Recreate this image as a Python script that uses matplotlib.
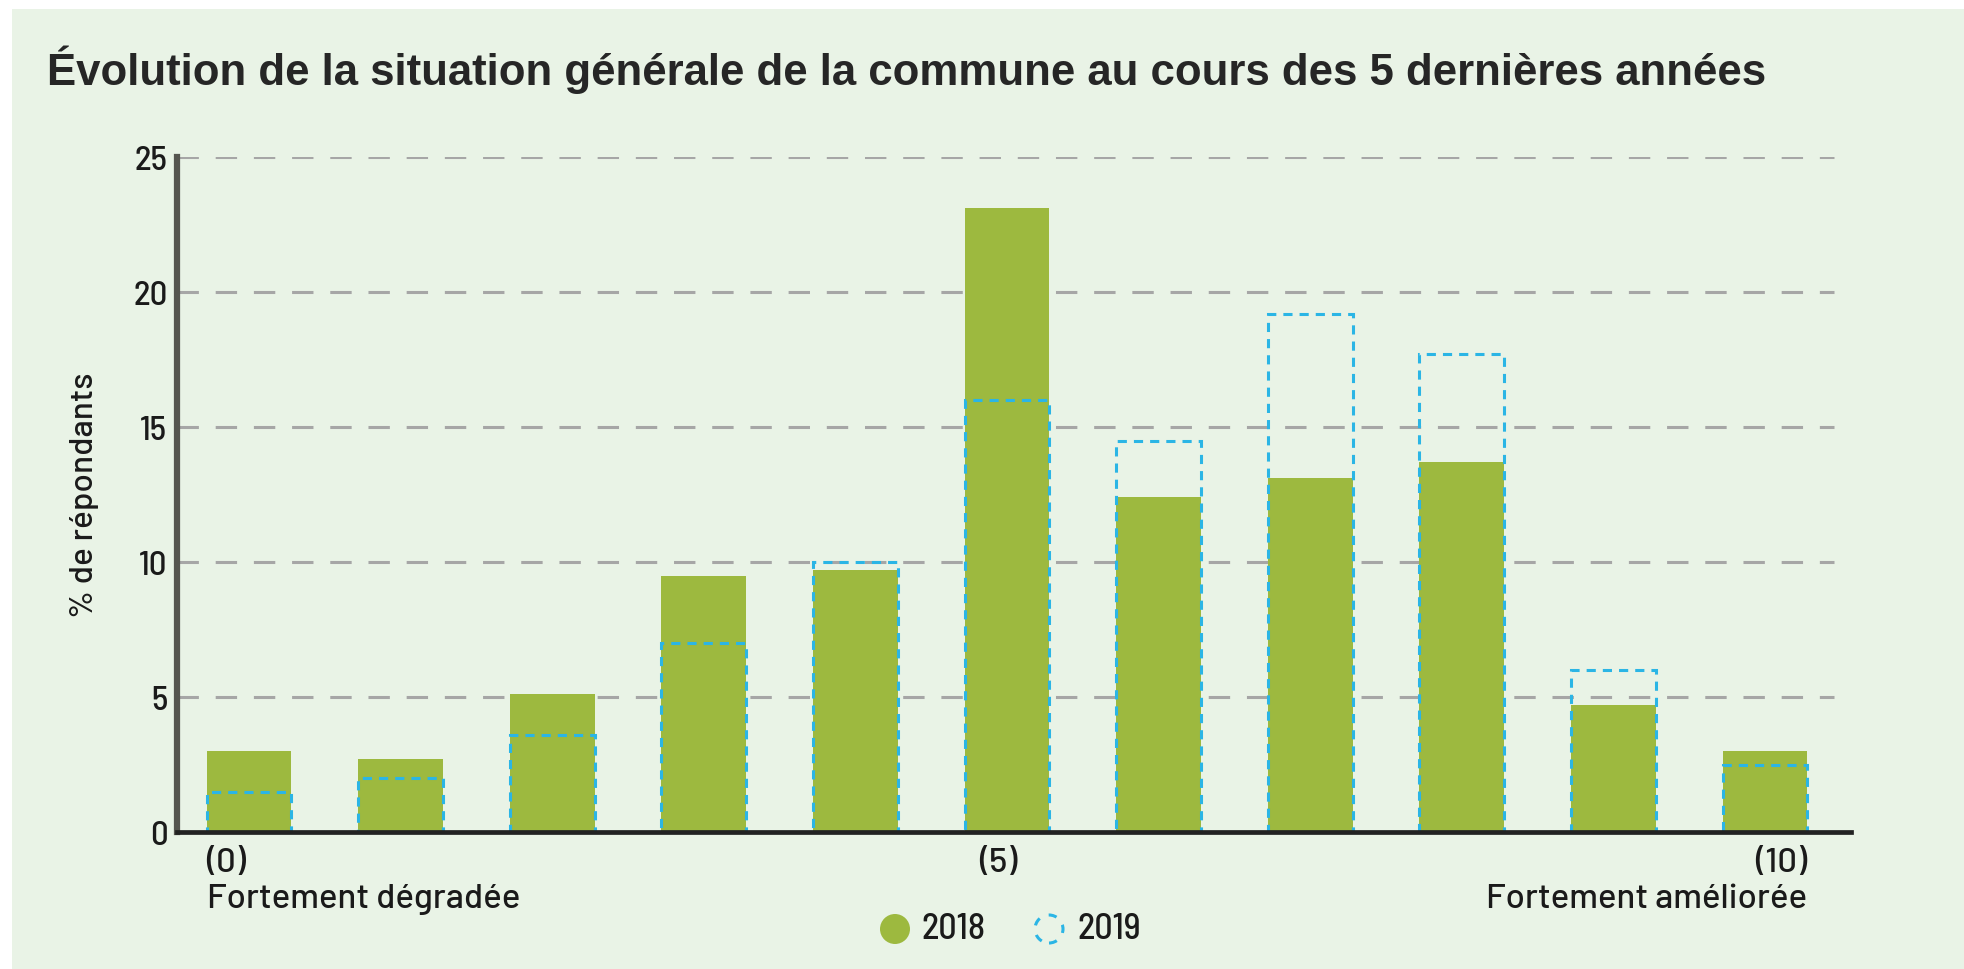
import matplotlib
matplotlib.use("Agg")
import matplotlib.pyplot as plt
from matplotlib.patches import Rectangle, Ellipse
import numpy as np

# ---- data ----
categories = list(range(11))
values_2018 = [3.0, 2.7, 5.1, 9.5, 9.7, 23.1, 12.4, 13.1, 13.7, 4.7, 3.0]
values_2019 = [1.5, 2.0, 3.6, 7.0, 10.0, 16.0, 14.5, 19.2, 17.7, 6.0, 2.5]
yticks = [0, 5, 10, 15, 20, 25]
series_names = ["2018", "2019"]
title = "Évolution de la situation générale de la commune au cours des 5 dernières années"
ylabel = "% de répondants"
left_label = ("(0)", "Fortement dégradée")
mid_label = "(5)"
right_label = ("(10)", "Fortement améliorée")

FONT = ["Barlow", "DejaVu Sans"]
NFONT = ["Barlow Semi Condensed", "DejaVu Sans"]
TFONT = ["Liberation Sans", "DejaVu Sans"]
plt.rcParams["font.family"] = FONT

W, H = 1964, 970
GREEN = "#9DB93F"
BLUE = "#2BB5E5"
BG = "#E9F3E6"
TXT = "#1a1a1a"

fig = plt.figure(figsize=(W / 100, H / 100), dpi=100)
fig.patch.set_facecolor("white")
fig.patches.append(Rectangle((12 / W, 0), 1 - 12 / W, 1 - 10 / H,
                             transform=fig.transFigure, facecolor=BG,
                             edgecolor="none", zorder=-10))

ax_l, ax_r, ax_t, ax_b = 177, 1851, 158, 833
ax = fig.add_axes([ax_l / W, 1 - ax_b / H, (ax_r - ax_l) / W, (ax_b - ax_t) / H])
ax.set_facecolor("none")

x = np.array(categories)
bw = 0.56
ax.bar(x, values_2018, width=bw, color=GREEN, zorder=2)
ax.bar(x, values_2019, width=bw, fill=False, edgecolor=BLUE,
       linestyle=(0, (3, 2.3)), linewidth=2.2, zorder=3)

ax.set_xlim(-0.475, 10.567)
ax.set_ylim(0, 25)

for yv in yticks[1:]:
    ax.axhline(yv, xmin=0, xmax=0.99, color="#A6A6A6", lw=2.2,
               dashes=(7, 5.5), zorder=1)

for s in ["top", "right"]:
    ax.spines[s].set_visible(False)
ax.spines["left"].set_color("#55554F")
ax.spines["left"].set_linewidth(4.5)
ax.spines["bottom"].set_color("#222222")
ax.spines["bottom"].set_linewidth(3.4)
ax.spines["bottom"].set_zorder(4)

ax.set_yticks(yticks)
ax.tick_params(axis="y", length=0, pad=7, labelsize=25, labelcolor=TXT)
ax.set_xticks([])
for lab in ax.get_yticklabels():
    lab.set_fontweight("medium")
    lab.set_family(NFONT)

ax.set_ylabel(ylabel, fontsize=24, color=TXT, fontweight="medium")
ax.yaxis.set_label_coords((99 - ax_l) / (ax_r - ax_l), 0.5)

tr = ax.get_xaxis_transform()
txt_kw = dict(fontsize=25, color=TXT, va="center", transform=tr, clip_on=False,
              fontweight="medium")
y1 = (ax_b - 864) / (ax_b - ax_t)
y2 = (ax_b - 900) / (ax_b - ax_t)
ax.text(x[0] - bw / 2, y1, left_label[0], ha="left", **txt_kw)
ax.text(x[0] - bw / 2, y2, left_label[1], ha="left", **txt_kw)
ax.text(x[5] - 0.06, y1, mid_label, ha="center", **txt_kw)
ax.text(x[-1] + bw / 2, y1, right_label[0], ha="right", **txt_kw)
ax.text(x[-1] + bw / 2, y2, right_label[1], ha="right", **txt_kw)

fig.text(47 / W, 1 - 85 / H, title, fontsize=31.5, fontweight="bold",
         family=TFONT, color="#262626", ha="left", va="baseline")

# legend
ly = 1 - 930 / H
fig.patches.append(Ellipse((895 / W, ly), 30 / W, 30 / H, transform=fig.transFigure,
                           facecolor=GREEN, edgecolor="none"))
fig.text(921 / W, ly, series_names[0], fontsize=26, color=TXT, family=NFONT,
         ha="left", va="center", fontweight="medium")
fig.patches.append(Ellipse((1049 / W, ly), 28 / W, 28 / H, transform=fig.transFigure,
                           facecolor="none", edgecolor=BLUE, linewidth=2.2,
                           linestyle=(0, (2.7, 3.2))))
fig.text(1077 / W, ly, series_names[1], fontsize=26, color=TXT, family=NFONT,
         ha="left", va="center", fontweight="medium")

fig.savefig("out.png", dpi=100, facecolor=fig.get_facecolor())
